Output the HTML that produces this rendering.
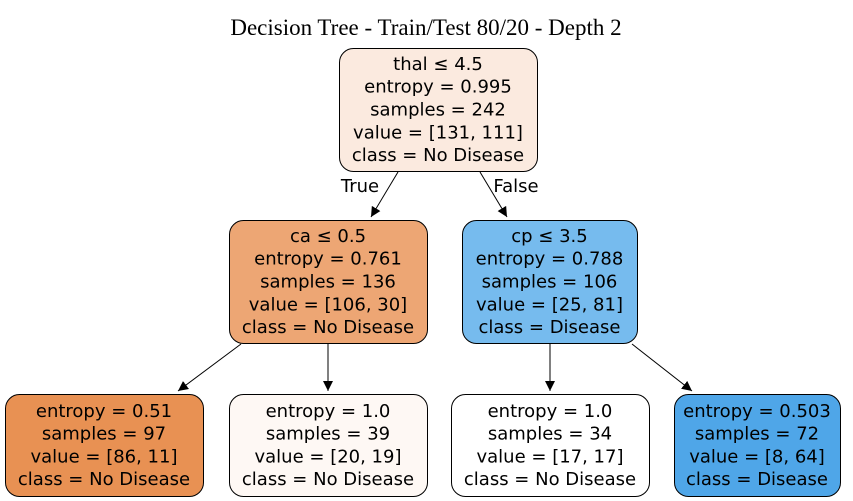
<!DOCTYPE html>
<html>
<head>
<meta charset="utf-8">
<style>
html,body{margin:0;padding:0;background:#fff;}
svg{display:block;}
.t{font-family:"DejaVu Sans","Liberation Sans",sans-serif;font-size:18px;fill:#000;text-anchor:middle;}
.title{font-family:"Liberation Serif","DejaVu Serif",serif;font-size:23px;text-anchor:middle;fill:#000;}
</style>
</head>
<body>
<svg id="chart" width="853" height="501" viewBox="0 0 853 501">
<defs>
<marker id="arr" viewBox="0 0 10 10" refX="10" refY="5" markerWidth="10" markerHeight="10" markerUnits="userSpaceOnUse" orient="auto">
<path d="M0,0 L10,5 L0,10 z" fill="#000"/>
</marker>
</defs>
<text class="title" x="426" y="35">Decision Tree - Train/Test 80/20 - Depth 2</text>
<g id="edges"></g>
<g id="nodes"></g>
</svg>
<script>
const nodeLabels = [
 ["thal ≤ 4.5","entropy = 0.995","samples = 242","value = [131, 111]","class = No Disease"],
 ["ca ≤ 0.5","entropy = 0.761","samples = 136","value = [106, 30]","class = No Disease"],
 ["cp ≤ 3.5","entropy = 0.788","samples = 106","value = [25, 81]","class = Disease"],
 ["entropy = 0.51","samples = 97","value = [86, 11]","class = No Disease"],
 ["entropy = 1.0","samples = 39","value = [20, 19]","class = No Disease"],
 ["entropy = 1.0","samples = 34","value = [17, 17]","class = No Disease"],
 ["entropy = 0.503","samples = 72","value = [8, 64]","class = Disease"]
];
const nodeNames = ["root-node","node-ca","node-cp","leaf-1","leaf-2","leaf-3","leaf-4"];
const nodeColors = ["#fbeadf","#eda674","#76bbee","#e89153","#fef8f4","#ffffff","#4fa6e8"];
const boxes = [[339,48,198,123],[229,220,198,123],[462,220,175,123],[5,394,198,102],[229,394,198,102],[451,394,198,102],[674,394,166,102]];
const edges = [[0,1,398,172,371,217,"True",360,192],[0,2,480,172,507,217,"False",516,192],[1,3,241,344,178,391,"",0,0],[1,4,328,344,328,391,"",0,0],[2,5,550,344,550,391,"",0,0],[2,6,632,344,692,391,"",0,0]];
const NS="http://www.w3.org/2000/svg";
const eg=document.getElementById('edges'), ng=document.getElementById('nodes');
edges.forEach(e=>{
  const l=document.createElementNS(NS,'line');
  l.setAttribute('x1',e[2]);l.setAttribute('y1',e[3]);l.setAttribute('x2',e[4]);l.setAttribute('y2',e[5]);
  l.setAttribute('stroke','#000');l.setAttribute('stroke-width','1');l.setAttribute('marker-end','url(#arr)');
  
  
  eg.appendChild(l);
  if(e[6]){
    const t=document.createElementNS(NS,'text');
    t.setAttribute('class','t');t.setAttribute('x',e[7]);t.setAttribute('y',e[8]);t.textContent=e[6];
    
    
    eg.appendChild(t);
  }
});
boxes.forEach((b,i)=>{
  const g=document.createElementNS(NS,'g');
  
  
  const r=document.createElementNS(NS,'rect');
  r.setAttribute('x',b[0]+0.5);r.setAttribute('y',b[1]+0.5);r.setAttribute('width',b[2]);r.setAttribute('height',b[3]);
  r.setAttribute('rx',14);r.setAttribute('fill',nodeColors[i]);r.setAttribute('stroke','#000');
  g.appendChild(r);
  const lines=nodeLabels[i], n=lines.length, sp=22.8;
  const cx=b[0]+b[2]/2, cy=b[1]+b[3]/2;
  lines.forEach((s,k)=>{
    const t=document.createElementNS(NS,'text');
    t.setAttribute('class','t');t.setAttribute('x',cx);
    t.setAttribute('y',cy+(k-(n-1)/2)*sp+6);t.textContent=s;
    g.appendChild(t);
  });
  ng.appendChild(g);
});
</script>
</body>
</html>
